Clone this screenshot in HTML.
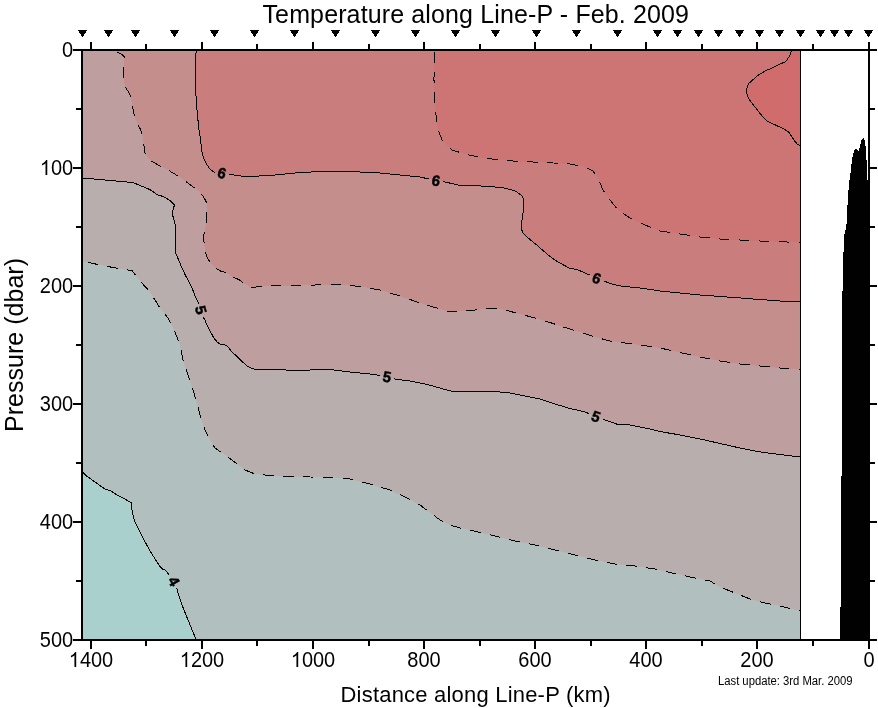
<!DOCTYPE html>
<html><head><meta charset="utf-8"><title>Temperature along Line-P</title>
<style>html,body{margin:0;padding:0;background:#fff;}svg{display:block;will-change:transform;opacity:0.999;}</style></head>
<body>
<svg width="878" height="708" viewBox="0 0 878 708">
<rect x="0" y="0" width="878" height="708" fill="#fff"/>
<g shape-rendering="crispEdges">
<rect x="83" y="51" width="717" height="588" fill="#aad0cd"/>
<polygon points="82,471.5 83.4,472 85,475.1 92,479.8 98.2,484.4 105.2,489.1 110.6,490.6 116,494.5 123.8,498.4 131.3,502.7 132,510 134,520 138,528 143,538 150,551 157,562 161,568 163,569.5 165,569.5 167,572 169.5,575.5 173,582 176.5,587 178,593 182,605 188,620 193,632 196,640 800,640 800,50 82,50" fill="#b1bfbe"/>
<polygon points="82,261 100,265 120,268.8 127.9,270 131.8,270.3 136.8,276.9 142.2,283.3 150,292 160,308 168,318 175,332 180,345 183,360 188,375 193,390 196,400 200,415 205,430 210,440 215,448 222,453 232,460 245,470 255,474 270,475.5 290,476.5 310,477 335,477.5 350,479 370,484 390,490 405,497 420,505 432,514 440,520 450,525 460,528 470,530 480,532.5 495,536 515,541 535,545 555,550 575,555 595,560 615,564 635,566 655,569 670,572.5 690,577 710,581 720,587 735,593 750,599 765,603 780,606 790,608.5 800,611 800,50 82,50" fill="#b9aeae"/>
<polygon points="82,178 105,180 133,182.5 150.9,190 157,194.7 163.3,196.5 169.5,200.1 174.5,204.8 173.4,208.6 172.3,214 174.2,221 176,228 175.4,236.6 175.4,252 177.3,256.8 181.2,266 185,274.7 189.7,283.2 193.6,291.8 196.7,300 198.8,303.6 201,310 202,316 204,318 207,325 212.5,335.7 216.3,341.3 220,344.2 224.4,344.3 228.2,347 231.3,351.4 237.6,357 242.6,362 247.6,366.4 253.3,369.2 265,369.2 285,370 310,370 330,369.5 350,372 370,374 380,375.5 386,377 395,379 410,381 425,384 440,388 450,391 460,392 475,391.5 495,391.5 510,393 525,396 540,399 555,404 570,408.5 585,412 595,416 605,420 618,424.5 630,425 650,429 660,431.5 680,435 700,439 720,443.5 740,448 760,452 780,454.5 800,457 800,50 82,50" fill="#be9e9e"/>
<polygon points="116,50 117.1,52 121.8,54.3 124.4,56.7 124.4,58.7 123.8,68.3 123.6,78.4 125.2,87 128.7,92.4 130.6,96.3 132.3,106.4 133.4,111 134.5,116.2 138,125 140.7,129.7 142.3,134.8 143.5,142.9 145,153 150,160 158,165 168,170 178,176 188,183 196,189 201.4,193.9 204.5,198.5 206.5,202.4 206.5,222.6 204.5,232 203.4,237.4 204,242 205.3,252.2 207.1,257.6 209.6,261.5 216.1,268.5 220.8,271.1 225.5,272.3 233.2,277.3 239.4,279.8 242.5,282.4 250,287 256,287 270,286 300,285.5 330,284.5 345,285 360,286.5 380,290 400,296 420,303 440,309 450,312 460,311 470,310.5 480,309.5 493,308 505,310 520,314 535,318 550,322.5 565,327.5 580,332 595,337 610,341 625,343 640,345 660,348 680,352.5 700,357 720,361 740,364 760,366 780,368 800,369.5 800,50" fill="#c48e8c"/>
<polygon points="196.3,50 195.2,60.5 195.2,88.5 196.3,99.4 197.1,111.8 198.7,127.3 200.7,141.3 202.2,153.8 204.3,160 207.7,166 211,170.3 215,172.6 222,173.5 229,174.5 236,175.2 245,176.6 260,176 270,175.5 295,173 320,171.5 350,171.5 380,173 400,175 420,177 435,180.5 445,182 458,185 470,185.5 490,186.5 505,188 515,191 520,194 523.5,198 523.5,210 522,220 521,228 523,233 528,238 538,246 548,255 558,262 570,268.5 577,269.5 586,273.5 591,275.5 596.5,278.4 603,280.5 610,283.5 618,285.7 640,288 660,291 700,295 740,298 780,301 800,302 800,50" fill="#c97e7d"/>
<polygon points="434.25,50 434,80 434.5,100 436,115 438,130 443,142 452,150 465,154 480,157.5 500,160 520,161.5 545,162.5 570,164 585,167 593,171 598,178 603,190 610,200 618,210 630,218 645,225 660,231 680,234 700,237 720,239 760,241 800,242.5 800,50" fill="#cd7574"/>
<polygon points="791.6,50 790.2,54.5 788.5,57.7 786.5,60.5 785.6,62.2 783.3,62.4 780,64 775.4,66.2 771.4,68.5 765.7,70.5 760,74.2 757.5,75.5 748.2,84 746.1,90.8 748.2,98 752.5,104 758,110.7 761.1,115 766.3,120.4 769.7,122.4 774.2,124.4 778.2,126.4 781.6,127.5 783.3,128.6 785.6,130.4 789,131.5 790.2,134.4 792.5,137.8 795.3,141.8 798.4,145.5 800,145.5 800,50" fill="#d16c6c"/>
</g>
<rect x="0" y="0" width="878" height="49" fill="#fff"/>
<rect x="0" y="641" width="878" height="67" fill="#fff"/>
<rect x="0" y="0" width="81" height="708" fill="#fff"/>
<g fill="none" stroke="#000" stroke-width="1" shape-rendering="crispEdges">
<polyline points="82.0,471.5 84.5,474.1 86.8,476.3 89.4,478.0 92.0,479.8 94.7,481.8 97.3,483.7 100.0,485.6 102.6,487.3 105.2,489.1 108.4,490.0 111.5,491.2 114.2,493.2 117.0,495.0 119.9,496.4 122.8,497.9 125.7,499.5 128.5,501.1 131.3,502.7 131.6,505.8 131.9,509.0 132.4,512.0 133.0,515.0 133.6,518.0 134.5,521.0 136.0,524.0 137.5,527.0 138.9,529.8 140.3,532.5 141.6,535.3 143.0,538.0 144.5,540.8 146.0,543.6 147.5,546.4 149.0,549.1 150.5,551.8 152.2,554.4 153.8,556.9 155.4,559.5 157.0,562.0 158.7,564.6 160.4,567.1 163.0,569.5 165.7,570.3 167.6,572.9 169.5,575.5"/>
<polyline points="176.8,588.0 177.5,591.0 178.3,594.0 179.3,597.0 180.3,600.0 181.3,603.0 182.4,605.9 183.5,608.8 184.6,611.6 185.8,614.4 186.9,617.2 188.0,620.0 189.2,622.8 190.3,625.5 191.5,628.3 192.6,631.1 193.8,634.0 194.9,637.0 196.0,640.0"/>
<polyline points="82,261 100,265 120,268.8 127.9,270 131.8,270.3 136.8,276.9 142.2,283.3 150,292 160,308 168,318 175,332 180,345 183,360 188,375 193,390 196,400 200,415 205,430 210,440 215,448 222,453 232,460 245,470 255,474 270,475.5 290,476.5 310,477 335,477.5 350,479 370,484 390,490 405,497 420,505 432,514 440,520 450,525 460,528 470,530 480,532.5 495,536 515,541 535,545 555,550 575,555 595,560 615,564 635,566 655,569 670,572.5 690,577 710,581 720,587 735,593 750,599 765,603 780,606 790,608.5 800,611" stroke-dasharray="10.8 9.18" stroke-dashoffset="-5.72"/>
<polyline points="82.0,178.0 85.0,178.3 88.0,178.5 91.0,178.8 94.0,179.0 97.0,179.3 100.0,179.6 103.0,179.8 106.0,180.1 109.0,180.4 112.0,180.6 115.0,180.9 118.0,181.2 121.0,181.4 124.0,181.7 127.0,182.0 130.0,182.2 133.0,182.5 135.8,183.7 138.7,184.9 141.5,186.1 144.3,187.2 147.1,188.4 150.0,189.6 152.6,191.3 155.3,193.4 158.1,195.0 161.2,195.9 164.2,197.0 166.8,198.6 169.5,200.1 172.0,202.4 174.5,204.8 173.4,208.6 172.7,211.8 172.6,215.0 173.4,218.0 174.2,221.0 175.0,224.0 175.7,227.0 175.8,230.2 175.6,233.4 175.4,236.6 175.4,239.7 175.4,242.8 175.4,245.8 175.4,248.9 175.4,252.0 176.5,254.9 177.7,257.8 179.0,260.9 180.3,264.0 181.6,267.0 182.9,269.9 184.2,272.8 185.5,275.6 187.1,278.5 188.7,281.3 190.1,284.2 191.4,287.0 192.7,289.9 194.0,292.8 195.1,295.9 196.3,299.0 197.8,301.8 198.8,303.6"/>
<polyline points="203.0,317.0 204.9,320.0 206.1,323.0 207.5,325.9 208.8,328.6 210.2,331.2 211.6,333.9 213.1,336.6 215.0,339.4 217.2,342.0 220.0,344.2 223.3,344.3 226.3,345.6 228.8,347.9 230.7,350.5 232.9,352.8 235.2,354.9 237.6,357.0 239.7,359.1 241.9,361.3 244.3,363.5 246.8,365.7 249.5,367.3 252.4,368.7 255.4,369.2 258.6,369.2 261.8,369.2 265.0,369.2 268.0,369.3 271.0,369.4 274.0,369.6 277.0,369.7 280.0,369.8 283.0,369.9 286.0,370.0 289.0,370.0 292.0,370.0 295.0,370.0 298.0,370.0 301.0,370.0 304.0,370.0 307.0,370.0 310.0,370.0 313.0,369.9 316.0,369.9 319.0,369.8 322.0,369.7 325.0,369.6 328.0,369.6 331.0,369.6 334.0,370.0 337.0,370.4 340.0,370.8 343.0,371.1 346.0,371.5 349.0,371.9 352.0,372.2 355.0,372.5 358.0,372.8 361.0,373.1 364.0,373.4 367.0,373.7 370.0,374.0 373.0,374.4 376.0,374.9 379.0,375.4 380.0,375.5"/>
<polyline points="394.0,378.8 397.0,379.3 400.0,379.7 403.0,380.1 406.0,380.5 409.0,380.9 412.0,381.4 415.0,382.0 418.0,382.6 421.0,383.2 424.0,383.8 427.0,384.5 430.0,385.3 433.0,386.1 436.0,386.9 439.0,387.7 442.0,388.6 445.0,389.5 448.0,390.4 451.0,391.1 454.0,391.4 457.0,391.7 460.0,392.0 463.0,391.9 466.0,391.8 469.0,391.7 472.0,391.6 475.0,391.5 478.0,391.5 481.0,391.5 484.0,391.5 487.0,391.5 490.0,391.5 493.0,391.5 496.0,391.6 499.0,391.9 502.0,392.2 505.0,392.5 508.0,392.8 511.0,393.2 514.0,393.8 517.0,394.4 520.0,395.0 523.0,395.6 526.0,396.2 529.0,396.8 532.0,397.4 535.0,398.0 538.0,398.6 541.0,399.3 544.0,400.3 547.0,401.3 550.0,402.3 553.0,403.3 556.0,404.3 559.0,405.2 562.0,406.1 565.0,407.0 568.0,407.9 571.0,408.7 574.0,409.4 577.0,410.1 580.0,410.8 583.0,411.5 586.0,412.4 589.0,413.6"/>
<polyline points="603.0,419.2 606.0,420.3 609.0,421.4 612.0,422.4 615.0,423.5 618.0,424.5 621.0,424.6 624.0,424.8 627.0,424.9 630.0,425.0 633.0,425.6 636.0,426.2 639.0,426.8 642.0,427.4 645.0,428.0 648.0,428.6 651.0,429.2 654.0,430.0 657.0,430.8 660.0,431.5 663.0,432.0 666.0,432.6 669.0,433.1 672.0,433.6 675.0,434.1 678.0,434.6 681.0,435.2 684.0,435.8 687.0,436.4 690.0,437.0 693.0,437.6 696.0,438.2 699.0,438.8 702.0,439.4 705.0,440.1 708.0,440.8 711.0,441.5 714.0,442.1 717.0,442.8 720.0,443.5 723.0,444.2 726.0,444.9 729.0,445.5 732.0,446.2 735.0,446.9 738.0,447.6 741.0,448.2 744.0,448.8 747.0,449.4 750.0,450.0 753.0,450.6 756.0,451.2 759.0,451.8 762.0,452.2 765.0,452.6 768.0,453.0 771.0,453.4 774.0,453.8 777.0,454.1 780.0,454.5 783.0,454.9 786.0,455.2 789.0,455.6 792.0,456.0 795.0,456.4 798.0,456.8 800.0,457.0"/>
<polyline points="116,50 117.1,52 121.8,54.3 124.4,56.7 124.4,58.7 123.8,68.3 123.6,78.4 125.2,87 128.7,92.4 130.6,96.3 132.3,106.4 133.4,111 134.5,116.2 138,125 140.7,129.7 142.3,134.8 143.5,142.9 145,153 150,160 158,165 168,170 178,176 188,183 196,189 201.4,193.9 204.5,198.5 206.5,202.4 206.5,222.6 204.5,232 203.4,237.4 204,242 205.3,252.2 207.1,257.6 209.6,261.5 216.1,268.5 220.8,271.1 225.5,272.3 233.2,277.3 239.4,279.8 242.5,282.4 250,287 256,287 270,286 300,285.5 330,284.5 345,285 360,286.5 380,290 400,296 420,303 440,309 450,312 460,311 470,310.5 480,309.5 493,308 505,310 520,314 535,318 550,322.5 565,327.5 580,332 595,337 610,341 625,343 640,345 660,348 680,352.5 700,357 720,361 740,364 760,366 780,368 800,369.5" stroke-dasharray="10.8 9.16" stroke-dashoffset="-1.93"/>
<polyline points="196.3,50.0 196.0,53.1 195.6,56.3 195.3,59.5 195.2,62.5 195.2,65.5 195.2,68.5 195.2,71.5 195.2,74.5 195.2,77.5 195.2,80.5 195.2,83.5 195.2,86.5 195.3,89.6 195.6,92.9 196.0,96.1 196.3,99.4 196.5,102.5 196.7,105.6 196.9,108.7 197.1,111.8 197.4,114.9 197.7,118.0 198.1,121.1 198.4,124.2 198.7,127.3 199.1,130.3 199.6,133.3 200.0,136.3 200.4,139.3 200.8,142.3 201.2,145.5 201.6,148.6 201.9,151.7 202.5,154.8 203.6,157.9 204.9,161.0 206.6,164.0 208.4,166.9 210.3,169.4 213.0,171.4 215.0,172.6"/>
<polyline points="229.0,174.5 232.0,174.8 235.0,175.1 238.0,175.5 241.0,176.0 244.0,176.4 247.0,176.5 250.0,176.4 253.0,176.3 256.0,176.2 259.0,176.0 262.0,175.9 265.0,175.8 268.0,175.6 271.0,175.4 274.0,175.1 277.0,174.8 280.0,174.5 283.0,174.2 286.0,173.9 289.0,173.6 292.0,173.3 295.0,173.0 298.0,172.8 301.0,172.6 304.0,172.5 307.0,172.3 310.0,172.1 313.0,171.9 316.0,171.7 319.0,171.6 322.0,171.5 325.0,171.5 328.0,171.5 331.0,171.5 334.0,171.5 337.0,171.5 340.0,171.5 343.0,171.5 346.0,171.5 349.0,171.5 352.0,171.6 355.0,171.8 358.0,171.9 361.0,172.1 364.0,172.2 367.0,172.3 370.0,172.5 373.0,172.7 376.0,172.8 379.0,172.9 382.0,173.2 385.0,173.5 388.0,173.8 391.0,174.1 394.0,174.4 397.0,174.7 400.0,175.0 403.0,175.3 406.0,175.6 409.0,175.9 412.0,176.2 415.0,176.5 418.0,176.8 421.0,177.2 424.0,177.9 427.0,178.6 429.0,179.1"/>
<polyline points="443.0,181.7 446.0,182.2 449.0,182.9 452.0,183.6 455.0,184.3 458.0,185.0 461.0,185.1 464.0,185.2 467.0,185.4 470.0,185.5 473.0,185.7 476.0,185.8 479.0,185.9 482.0,186.1 485.0,186.2 488.0,186.4 491.0,186.6 494.0,186.9 497.0,187.2 500.0,187.5 503.0,187.8 506.0,188.3 509.0,189.2 512.0,190.1 515.0,191.0 518.0,192.8 520.7,194.8 522.8,197.2 523.5,200.0 523.5,203.0 523.5,206.0 523.5,209.0 523.2,212.0 522.8,215.0 522.3,218.0 521.9,221.0 521.5,224.0 521.1,227.0 521.8,230.0 523.0,233.0 525.1,235.1 527.3,237.3 529.7,239.3 532.2,241.3 534.7,243.3 537.2,245.3 539.5,247.4 541.8,249.5 544.2,251.5 546.5,253.6 548.8,255.6 551.3,257.3 553.8,259.1 556.3,260.8 558.9,262.5 561.7,264.0 564.5,265.5 567.2,267.0 570.0,268.5 573.0,268.9 576.0,269.4 579.0,270.4 582.0,271.7 585.0,273.1 588.0,274.3 590.0,275.1"/>
<polyline points="604.0,280.9 607.0,282.2 610.0,283.5 613.0,284.3 616.0,285.1 619.0,285.8 622.0,286.1 625.0,286.4 628.0,286.7 631.0,287.1 634.0,287.4 637.0,287.7 640.0,288.0 643.0,288.4 646.0,288.9 649.0,289.4 652.0,289.8 655.0,290.2 658.0,290.7 661.0,291.1 664.0,291.4 667.0,291.7 670.0,292.0 673.0,292.3 676.0,292.6 679.0,292.9 682.0,293.2 685.0,293.5 688.0,293.8 691.0,294.1 694.0,294.4 697.0,294.7 700.0,295.0 703.0,295.2 706.0,295.4 709.0,295.7 712.0,295.9 715.0,296.1 718.0,296.4 721.0,296.6 724.0,296.8 727.0,297.0 730.0,297.2 733.0,297.5 736.0,297.7 739.0,297.9 742.0,298.1 745.0,298.4 748.0,298.6 751.0,298.8 754.0,299.1 757.0,299.3 760.0,299.5 763.0,299.7 766.0,299.9 769.0,300.2 772.0,300.4 775.0,300.6 778.0,300.9 781.0,301.1 784.0,301.2 787.0,301.4 790.0,301.5 793.0,301.6 796.0,301.8 799.0,301.9 800.0,302.0"/>
<polyline points="434.25,50 434,80 434.5,100 436,115 438,130 443,142 452,150 465,154 480,157.5 500,160 520,161.5 545,162.5 570,164 585,167 593,171 598,178 603,190 610,200 618,210 630,218 645,225 660,231 680,234 700,237 720,239 760,241 800,242.5" stroke-dasharray="10.8 9.20" stroke-dashoffset="-1.75"/>
<polyline points="791.6,50.0 790.6,53.4 789.1,56.6 787.2,59.6 784.5,62.3 781.1,63.5 778.2,64.9 775.4,66.2 772.4,67.9 769.5,69.2 766.7,70.2 763.8,71.7 761.0,73.6 757.5,75.5 755.2,77.6 752.9,79.8 750.5,81.9 748.2,84.0 747.3,86.9 746.4,89.8 746.7,92.9 747.6,95.9 748.8,98.9 750.7,101.4 752.5,104.0 754.6,106.5 756.6,109.0 758.6,111.6 760.5,114.1 762.6,116.5 764.8,118.9 767.4,121.1 770.8,122.9 774.2,124.4 777.2,125.9 780.5,127.1 783.3,128.6 786.7,130.8 789.4,132.5 790.8,135.2 792.5,137.8 794.6,140.8 796.8,143.7 800.0,145.5"/>
</g>
<g font-family="Liberation Sans, sans-serif" font-weight="bold" font-size="15px" text-anchor="middle" fill="#000" stroke="#000" stroke-width="0.45">
<text transform="translate(222,173) rotate(15)" x="0" y="5.3">6</text>
<text transform="translate(436,180.5) rotate(10)" x="0" y="5.3">6</text>
<text transform="translate(596.7,278.2) rotate(20)" x="0" y="5.3">6</text>
<text transform="translate(201,310) rotate(75)" x="0" y="5.3">5</text>
<text transform="translate(387,376.7) rotate(10)" x="0" y="5.3">5</text>
<text transform="translate(596,416.5) rotate(20)" x="0" y="5.3">5</text>
<text transform="translate(174,581.3) rotate(60)" x="0" y="5.3">4</text>
</g>
<g shape-rendering="crispEdges" fill="#000">
<rect x="800" y="51" width="1" height="589"/>
<rect x="840" y="607" width="1" height="33"/>
<rect x="841" y="476" width="1" height="164"/>
<rect x="842" y="291" width="1" height="349"/>
<rect x="843" y="252" width="1" height="388"/>
<rect x="844" y="234" width="1" height="406"/>
<rect x="845" y="230" width="1" height="410"/>
<rect x="846" y="224" width="1" height="416"/>
<rect x="847" y="205" width="1" height="435"/>
<rect x="848" y="190" width="1" height="450"/>
<rect x="849" y="180" width="1" height="460"/>
<rect x="850" y="173" width="1" height="467"/>
<rect x="851" y="164" width="1" height="476"/>
<rect x="852" y="157" width="1" height="483"/>
<rect x="853" y="153" width="1" height="487"/>
<rect x="854" y="150" width="1" height="490"/>
<rect x="855" y="149" width="1" height="491"/>
<rect x="856" y="149" width="1" height="491"/>
<rect x="857" y="150" width="1" height="490"/>
<rect x="858" y="151" width="1" height="489"/>
<rect x="859" y="148" width="1" height="492"/>
<rect x="860" y="144" width="1" height="496"/>
<rect x="861" y="140" width="1" height="500"/>
<rect x="862" y="139" width="1" height="501"/>
<rect x="863" y="138" width="1" height="502"/>
<rect x="864" y="140" width="1" height="500"/>
<rect x="865" y="146" width="1" height="494"/>
<rect x="866" y="160" width="1" height="480"/>
<rect x="867" y="180" width="1" height="460"/>
<rect x="73" y="49" width="804" height="2"/>
<rect x="73" y="639" width="804" height="2"/>
<rect x="81" y="49" width="2" height="592"/>
<rect x="868" y="42" width="2" height="607"/>
<rect x="868" y="42" width="2" height="7"/>
<rect x="868" y="641" width="2" height="8"/>
<rect x="812" y="44" width="2" height="5"/>
<rect x="812" y="641" width="2" height="5"/>
<rect x="756" y="42" width="2" height="7"/>
<rect x="756" y="641" width="2" height="8"/>
<rect x="701" y="44" width="2" height="5"/>
<rect x="701" y="641" width="2" height="5"/>
<rect x="645" y="42" width="2" height="7"/>
<rect x="645" y="641" width="2" height="8"/>
<rect x="590" y="44" width="2" height="5"/>
<rect x="590" y="641" width="2" height="5"/>
<rect x="534" y="42" width="2" height="7"/>
<rect x="534" y="641" width="2" height="8"/>
<rect x="479" y="44" width="2" height="5"/>
<rect x="479" y="641" width="2" height="5"/>
<rect x="423" y="42" width="2" height="7"/>
<rect x="423" y="641" width="2" height="8"/>
<rect x="368" y="44" width="2" height="5"/>
<rect x="368" y="641" width="2" height="5"/>
<rect x="312" y="42" width="2" height="7"/>
<rect x="312" y="641" width="2" height="8"/>
<rect x="256" y="44" width="2" height="5"/>
<rect x="256" y="641" width="2" height="5"/>
<rect x="201" y="42" width="2" height="7"/>
<rect x="201" y="641" width="2" height="8"/>
<rect x="145" y="44" width="2" height="5"/>
<rect x="145" y="641" width="2" height="5"/>
<rect x="90" y="42" width="2" height="7"/>
<rect x="90" y="641" width="2" height="8"/>
<rect x="73" y="49" width="8" height="2"/>
<rect x="870" y="49" width="7" height="2"/>
<rect x="76" y="108" width="5" height="2"/>
<rect x="870" y="108" width="5" height="2"/>
<rect x="73" y="167" width="8" height="2"/>
<rect x="870" y="167" width="7" height="2"/>
<rect x="76" y="226" width="5" height="2"/>
<rect x="870" y="226" width="5" height="2"/>
<rect x="73" y="285" width="8" height="2"/>
<rect x="870" y="285" width="7" height="2"/>
<rect x="76" y="344" width="5" height="2"/>
<rect x="870" y="344" width="5" height="2"/>
<rect x="73" y="403" width="8" height="2"/>
<rect x="870" y="403" width="7" height="2"/>
<rect x="76" y="462" width="5" height="2"/>
<rect x="870" y="462" width="5" height="2"/>
<rect x="73" y="521" width="8" height="2"/>
<rect x="870" y="521" width="7" height="2"/>
<rect x="76" y="580" width="5" height="2"/>
<rect x="870" y="580" width="5" height="2"/>
<rect x="73" y="639" width="8" height="2"/>
<rect x="870" y="639" width="7" height="2"/>
</g>
<g fill="#000" shape-rendering="crispEdges">
<rect x="78" y="30" width="9" height="1"/>
<rect x="79" y="31" width="7" height="1"/>
<rect x="79" y="32" width="7" height="1"/>
<rect x="80" y="33" width="5" height="1"/>
<rect x="81" y="34" width="3" height="1"/>
<rect x="81" y="35" width="3" height="1"/>
<rect x="82" y="36" width="1" height="1"/>
<rect x="104" y="30" width="9" height="1"/>
<rect x="105" y="31" width="7" height="1"/>
<rect x="105" y="32" width="7" height="1"/>
<rect x="106" y="33" width="5" height="1"/>
<rect x="107" y="34" width="3" height="1"/>
<rect x="107" y="35" width="3" height="1"/>
<rect x="108" y="36" width="1" height="1"/>
<rect x="131" y="30" width="9" height="1"/>
<rect x="132" y="31" width="7" height="1"/>
<rect x="132" y="32" width="7" height="1"/>
<rect x="133" y="33" width="5" height="1"/>
<rect x="134" y="34" width="3" height="1"/>
<rect x="134" y="35" width="3" height="1"/>
<rect x="135" y="36" width="1" height="1"/>
<rect x="170" y="30" width="9" height="1"/>
<rect x="171" y="31" width="7" height="1"/>
<rect x="171" y="32" width="7" height="1"/>
<rect x="172" y="33" width="5" height="1"/>
<rect x="173" y="34" width="3" height="1"/>
<rect x="173" y="35" width="3" height="1"/>
<rect x="174" y="36" width="1" height="1"/>
<rect x="210" y="30" width="9" height="1"/>
<rect x="211" y="31" width="7" height="1"/>
<rect x="211" y="32" width="7" height="1"/>
<rect x="212" y="33" width="5" height="1"/>
<rect x="213" y="34" width="3" height="1"/>
<rect x="213" y="35" width="3" height="1"/>
<rect x="214" y="36" width="1" height="1"/>
<rect x="250" y="30" width="9" height="1"/>
<rect x="251" y="31" width="7" height="1"/>
<rect x="251" y="32" width="7" height="1"/>
<rect x="252" y="33" width="5" height="1"/>
<rect x="253" y="34" width="3" height="1"/>
<rect x="253" y="35" width="3" height="1"/>
<rect x="254" y="36" width="1" height="1"/>
<rect x="290" y="30" width="9" height="1"/>
<rect x="291" y="31" width="7" height="1"/>
<rect x="291" y="32" width="7" height="1"/>
<rect x="292" y="33" width="5" height="1"/>
<rect x="293" y="34" width="3" height="1"/>
<rect x="293" y="35" width="3" height="1"/>
<rect x="294" y="36" width="1" height="1"/>
<rect x="330.5" y="30" width="9" height="1"/>
<rect x="331.5" y="31" width="7" height="1"/>
<rect x="331.5" y="32" width="7" height="1"/>
<rect x="332.5" y="33" width="5" height="1"/>
<rect x="333.5" y="34" width="3" height="1"/>
<rect x="333.5" y="35" width="3" height="1"/>
<rect x="334.5" y="36" width="1" height="1"/>
<rect x="371" y="30" width="9" height="1"/>
<rect x="372" y="31" width="7" height="1"/>
<rect x="372" y="32" width="7" height="1"/>
<rect x="373" y="33" width="5" height="1"/>
<rect x="374" y="34" width="3" height="1"/>
<rect x="374" y="35" width="3" height="1"/>
<rect x="375" y="36" width="1" height="1"/>
<rect x="411" y="30" width="9" height="1"/>
<rect x="412" y="31" width="7" height="1"/>
<rect x="412" y="32" width="7" height="1"/>
<rect x="413" y="33" width="5" height="1"/>
<rect x="414" y="34" width="3" height="1"/>
<rect x="414" y="35" width="3" height="1"/>
<rect x="415" y="36" width="1" height="1"/>
<rect x="451" y="30" width="9" height="1"/>
<rect x="452" y="31" width="7" height="1"/>
<rect x="452" y="32" width="7" height="1"/>
<rect x="453" y="33" width="5" height="1"/>
<rect x="454" y="34" width="3" height="1"/>
<rect x="454" y="35" width="3" height="1"/>
<rect x="455" y="36" width="1" height="1"/>
<rect x="491" y="30" width="9" height="1"/>
<rect x="492" y="31" width="7" height="1"/>
<rect x="492" y="32" width="7" height="1"/>
<rect x="493" y="33" width="5" height="1"/>
<rect x="494" y="34" width="3" height="1"/>
<rect x="494" y="35" width="3" height="1"/>
<rect x="495" y="36" width="1" height="1"/>
<rect x="531.5" y="30" width="9" height="1"/>
<rect x="532.5" y="31" width="7" height="1"/>
<rect x="532.5" y="32" width="7" height="1"/>
<rect x="533.5" y="33" width="5" height="1"/>
<rect x="534.5" y="34" width="3" height="1"/>
<rect x="534.5" y="35" width="3" height="1"/>
<rect x="535.5" y="36" width="1" height="1"/>
<rect x="572" y="30" width="9" height="1"/>
<rect x="573" y="31" width="7" height="1"/>
<rect x="573" y="32" width="7" height="1"/>
<rect x="574" y="33" width="5" height="1"/>
<rect x="575" y="34" width="3" height="1"/>
<rect x="575" y="35" width="3" height="1"/>
<rect x="576" y="36" width="1" height="1"/>
<rect x="612.5" y="30" width="9" height="1"/>
<rect x="613.5" y="31" width="7" height="1"/>
<rect x="613.5" y="32" width="7" height="1"/>
<rect x="614.5" y="33" width="5" height="1"/>
<rect x="615.5" y="34" width="3" height="1"/>
<rect x="615.5" y="35" width="3" height="1"/>
<rect x="616.5" y="36" width="1" height="1"/>
<rect x="653" y="30" width="9" height="1"/>
<rect x="654" y="31" width="7" height="1"/>
<rect x="654" y="32" width="7" height="1"/>
<rect x="655" y="33" width="5" height="1"/>
<rect x="656" y="34" width="3" height="1"/>
<rect x="656" y="35" width="3" height="1"/>
<rect x="657" y="36" width="1" height="1"/>
<rect x="673" y="30" width="9" height="1"/>
<rect x="674" y="31" width="7" height="1"/>
<rect x="674" y="32" width="7" height="1"/>
<rect x="675" y="33" width="5" height="1"/>
<rect x="676" y="34" width="3" height="1"/>
<rect x="676" y="35" width="3" height="1"/>
<rect x="677" y="36" width="1" height="1"/>
<rect x="694" y="30" width="9" height="1"/>
<rect x="695" y="31" width="7" height="1"/>
<rect x="695" y="32" width="7" height="1"/>
<rect x="696" y="33" width="5" height="1"/>
<rect x="697" y="34" width="3" height="1"/>
<rect x="697" y="35" width="3" height="1"/>
<rect x="698" y="36" width="1" height="1"/>
<rect x="714" y="30" width="9" height="1"/>
<rect x="715" y="31" width="7" height="1"/>
<rect x="715" y="32" width="7" height="1"/>
<rect x="716" y="33" width="5" height="1"/>
<rect x="717" y="34" width="3" height="1"/>
<rect x="717" y="35" width="3" height="1"/>
<rect x="718" y="36" width="1" height="1"/>
<rect x="735" y="30" width="9" height="1"/>
<rect x="736" y="31" width="7" height="1"/>
<rect x="736" y="32" width="7" height="1"/>
<rect x="737" y="33" width="5" height="1"/>
<rect x="738" y="34" width="3" height="1"/>
<rect x="738" y="35" width="3" height="1"/>
<rect x="739" y="36" width="1" height="1"/>
<rect x="755" y="30" width="9" height="1"/>
<rect x="756" y="31" width="7" height="1"/>
<rect x="756" y="32" width="7" height="1"/>
<rect x="757" y="33" width="5" height="1"/>
<rect x="758" y="34" width="3" height="1"/>
<rect x="758" y="35" width="3" height="1"/>
<rect x="759" y="36" width="1" height="1"/>
<rect x="775" y="30" width="9" height="1"/>
<rect x="776" y="31" width="7" height="1"/>
<rect x="776" y="32" width="7" height="1"/>
<rect x="777" y="33" width="5" height="1"/>
<rect x="778" y="34" width="3" height="1"/>
<rect x="778" y="35" width="3" height="1"/>
<rect x="779" y="36" width="1" height="1"/>
<rect x="796" y="30" width="9" height="1"/>
<rect x="797" y="31" width="7" height="1"/>
<rect x="797" y="32" width="7" height="1"/>
<rect x="798" y="33" width="5" height="1"/>
<rect x="799" y="34" width="3" height="1"/>
<rect x="799" y="35" width="3" height="1"/>
<rect x="800" y="36" width="1" height="1"/>
<rect x="816" y="30" width="9" height="1"/>
<rect x="817" y="31" width="7" height="1"/>
<rect x="817" y="32" width="7" height="1"/>
<rect x="818" y="33" width="5" height="1"/>
<rect x="819" y="34" width="3" height="1"/>
<rect x="819" y="35" width="3" height="1"/>
<rect x="820" y="36" width="1" height="1"/>
<rect x="830" y="30" width="9" height="1"/>
<rect x="831" y="31" width="7" height="1"/>
<rect x="831" y="32" width="7" height="1"/>
<rect x="832" y="33" width="5" height="1"/>
<rect x="833" y="34" width="3" height="1"/>
<rect x="833" y="35" width="3" height="1"/>
<rect x="834" y="36" width="1" height="1"/>
<rect x="844" y="30" width="9" height="1"/>
<rect x="845" y="31" width="7" height="1"/>
<rect x="845" y="32" width="7" height="1"/>
<rect x="846" y="33" width="5" height="1"/>
<rect x="847" y="34" width="3" height="1"/>
<rect x="847" y="35" width="3" height="1"/>
<rect x="848" y="36" width="1" height="1"/>
<rect x="864" y="30" width="9" height="1"/>
<rect x="865" y="31" width="7" height="1"/>
<rect x="865" y="32" width="7" height="1"/>
<rect x="866" y="33" width="5" height="1"/>
<rect x="867" y="34" width="3" height="1"/>
<rect x="867" y="35" width="3" height="1"/>
<rect x="868" y="36" width="1" height="1"/>
</g>
<g font-family="Liberation Sans, sans-serif" fill="#000">
<text transform="translate(262.5,23) scale(1,1.04)" font-size="25px" textLength="426.5" lengthAdjust="spacing">Temperature along Line-P - Feb. 2009</text>
<text transform="translate(340.5,702) scale(1,1.035)" font-size="22px" textLength="270" lengthAdjust="spacing">Distance along Line-P (km)</text>
<text transform="translate(23,432) rotate(-90) scale(1,1.045)" font-size="25px" textLength="174" lengthAdjust="spacing">Pressure (dbar)</text>
<text transform="translate(718,685) scale(1,1.05)" font-size="11.3px" textLength="134.5" lengthAdjust="spacing">Last update: 3rd Mar. 2009</text>
<text transform="translate(869.00,667) scale(1,1.09)" font-size="20px" text-anchor="middle">0</text>
<text transform="translate(745.88,667) scale(1,1.09)" font-size="20px" text-anchor="middle">2</text>
<text transform="translate(757.00,667) scale(1,1.09)" font-size="20px" text-anchor="middle">0</text>
<text transform="translate(768.12,667) scale(1,1.09)" font-size="20px" text-anchor="middle">0</text>
<text transform="translate(634.88,667) scale(1,1.09)" font-size="20px" text-anchor="middle">4</text>
<text transform="translate(646.00,667) scale(1,1.09)" font-size="20px" text-anchor="middle">0</text>
<text transform="translate(657.12,667) scale(1,1.09)" font-size="20px" text-anchor="middle">0</text>
<text transform="translate(523.88,667) scale(1,1.09)" font-size="20px" text-anchor="middle">6</text>
<text transform="translate(535.00,667) scale(1,1.09)" font-size="20px" text-anchor="middle">0</text>
<text transform="translate(546.12,667) scale(1,1.09)" font-size="20px" text-anchor="middle">0</text>
<text transform="translate(412.88,667) scale(1,1.09)" font-size="20px" text-anchor="middle">8</text>
<text transform="translate(424.00,667) scale(1,1.09)" font-size="20px" text-anchor="middle">0</text>
<text transform="translate(435.12,667) scale(1,1.09)" font-size="20px" text-anchor="middle">0</text>
<path transform="translate(290.75,667) scale(1,1.043)" d="M7.451,0 H5.693 V-11.201 Q5.059,-10.596 4.028,-9.990 Q2.998,-9.385 2.178,-9.082 V-10.781 Q3.652,-11.475 4.756,-12.461 Q5.859,-13.447 6.318,-14.375 H7.451 Z"/>
<text transform="translate(307.44,667) scale(1,1.09)" font-size="20px" text-anchor="middle">0</text>
<text transform="translate(318.56,667) scale(1,1.09)" font-size="20px" text-anchor="middle">0</text>
<text transform="translate(329.68,667) scale(1,1.09)" font-size="20px" text-anchor="middle">0</text>
<path transform="translate(179.75,667) scale(1,1.043)" d="M7.451,0 H5.693 V-11.201 Q5.059,-10.596 4.028,-9.990 Q2.998,-9.385 2.178,-9.082 V-10.781 Q3.652,-11.475 4.756,-12.461 Q5.859,-13.447 6.318,-14.375 H7.451 Z"/>
<text transform="translate(196.44,667) scale(1,1.09)" font-size="20px" text-anchor="middle">2</text>
<text transform="translate(207.56,667) scale(1,1.09)" font-size="20px" text-anchor="middle">0</text>
<text transform="translate(218.68,667) scale(1,1.09)" font-size="20px" text-anchor="middle">0</text>
<path transform="translate(68.75,667) scale(1,1.043)" d="M7.451,0 H5.693 V-11.201 Q5.059,-10.596 4.028,-9.990 Q2.998,-9.385 2.178,-9.082 V-10.781 Q3.652,-11.475 4.756,-12.461 Q5.859,-13.447 6.318,-14.375 H7.451 Z"/>
<text transform="translate(85.44,667) scale(1,1.09)" font-size="20px" text-anchor="middle">4</text>
<text transform="translate(96.56,667) scale(1,1.09)" font-size="20px" text-anchor="middle">0</text>
<text transform="translate(107.68,667) scale(1,1.09)" font-size="20px" text-anchor="middle">0</text>
<text transform="translate(67.64,57.0) scale(1,1.09)" font-size="20px" text-anchor="middle">0</text>
<path transform="translate(39.83,175.0) scale(1,1.043)" d="M7.451,0 H5.693 V-11.201 Q5.059,-10.596 4.028,-9.990 Q2.998,-9.385 2.178,-9.082 V-10.781 Q3.652,-11.475 4.756,-12.461 Q5.859,-13.447 6.318,-14.375 H7.451 Z"/>
<text transform="translate(56.52,175.0) scale(1,1.09)" font-size="20px" text-anchor="middle">0</text>
<text transform="translate(67.64,175.0) scale(1,1.09)" font-size="20px" text-anchor="middle">0</text>
<text transform="translate(45.39,293.0) scale(1,1.09)" font-size="20px" text-anchor="middle">2</text>
<text transform="translate(56.52,293.0) scale(1,1.09)" font-size="20px" text-anchor="middle">0</text>
<text transform="translate(67.64,293.0) scale(1,1.09)" font-size="20px" text-anchor="middle">0</text>
<text transform="translate(45.39,411.0) scale(1,1.09)" font-size="20px" text-anchor="middle">3</text>
<text transform="translate(56.52,411.0) scale(1,1.09)" font-size="20px" text-anchor="middle">0</text>
<text transform="translate(67.64,411.0) scale(1,1.09)" font-size="20px" text-anchor="middle">0</text>
<text transform="translate(45.39,529.0) scale(1,1.09)" font-size="20px" text-anchor="middle">4</text>
<text transform="translate(56.52,529.0) scale(1,1.09)" font-size="20px" text-anchor="middle">0</text>
<text transform="translate(67.64,529.0) scale(1,1.09)" font-size="20px" text-anchor="middle">0</text>
<text transform="translate(45.39,647.0) scale(1,1.09)" font-size="20px" text-anchor="middle">5</text>
<text transform="translate(56.52,647.0) scale(1,1.09)" font-size="20px" text-anchor="middle">0</text>
<text transform="translate(67.64,647.0) scale(1,1.09)" font-size="20px" text-anchor="middle">0</text>
</g>
</svg>
</body></html>
